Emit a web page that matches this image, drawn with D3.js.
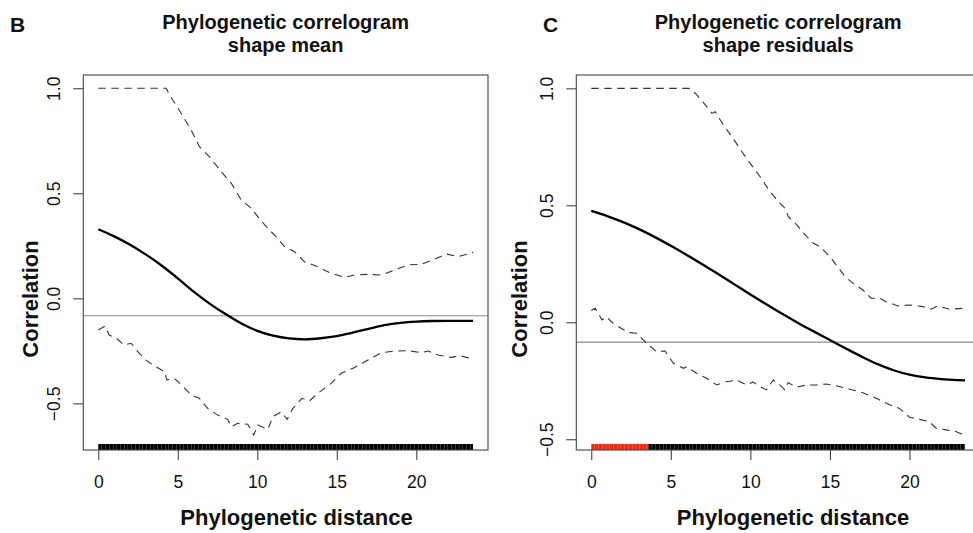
<!DOCTYPE html>
<html>
<head>
<meta charset="utf-8">
<script src="https://cdn.jsdelivr.net/npm/d3@7"></script>
<style>
  html, body { margin: 0; padding: 0; background: #fff; }
  svg { display: block; }
  text { font-family: "Liberation Sans", Arial, Helvetica, sans-serif; fill: #111; }
</style>
</head>
<body>
<svg id="chart" width="973" height="533"></svg>
<script>
// ---------------- data ----------------
const xTicks = [0, 5, 10, 15, 20];
const yTicksB = [-0.5, 0.0, 0.5, 1.0];
const yTicksC = [-0.5, 0.0, 0.5, 1.0];
const hLineB = -0.083;
const hLineC = -0.085;

// Panel B: shape mean
const bMeanDist = [0,1,2,3,4,5,6,7,8,9,10,11,12,13,14,15,16,17,18,19,20,21,22,23,23.57];
const bMeanCorr = [0.329,0.295,0.255,0.208,0.155,0.095,0.032,-0.025,-0.075,-0.120,-0.155,-0.178,-0.191,-0.195,-0.190,-0.180,-0.163,-0.145,-0.128,-0.117,-0.111,-0.108,-0.107,-0.107,-0.107];
const bUpperDist = [0,4.26,4.68,5.21,5.84,6.36,6.99,7.73,8.36,8.99,9.62,10.03,10.56,11.19,11.71,12.34,12.97,13.81,14.65,15.49,16.12,16.96,17.80,18.64,19.48,20.32,21.16,21.89,22.63,23.57];
const bUpperCorr = [1,1,0.944,0.881,0.801,0.722,0.674,0.603,0.548,0.468,0.429,0.389,0.341,0.293,0.246,0.222,0.174,0.150,0.119,0.100,0.111,0.114,0.111,0.135,0.159,0.162,0.186,0.211,0.198,0.219];
const bLowerDist = [0,0.42,0.69,1.22,1.6,2.06,2.48,3.0,3.53,4.16,4.32,4.79,5.31,5.84,6.36,6.88,7.51,8.14,8.36,8.77,9.40,9.78,10.03,10.66,10.98,11.5,11.88,12.24,12.81,13.29,13.81,14.65,15.28,16.12,16.96,17.80,18.64,19.48,20.32,20.74,21.37,22.21,22.74,23.57];
const bLowerCorr = [-0.151,-0.132,-0.175,-0.195,-0.222,-0.214,-0.254,-0.294,-0.322,-0.349,-0.389,-0.381,-0.418,-0.46,-0.476,-0.524,-0.556,-0.576,-0.611,-0.595,-0.599,-0.651,-0.603,-0.624,-0.564,-0.540,-0.576,-0.524,-0.476,-0.488,-0.452,-0.405,-0.357,-0.329,-0.294,-0.259,-0.251,-0.249,-0.259,-0.251,-0.270,-0.281,-0.273,-0.289];
const bBarStart = [0];
const bBarEnd = [23.57];
const bBarSig = ["ns"];

// Panel C: shape residuals
const cMeanDist = [0,1,2,3,4,5,6,7,8,9,10,11,12,13,14,15,16,17,18,19,20,21,22,23,23.49];
const cMeanCorr = [0.476,0.454,0.428,0.398,0.364,0.327,0.288,0.247,0.205,0.162,0.119,0.077,0.036,-0.003,-0.040,-0.076,-0.112,-0.147,-0.179,-0.205,-0.224,-0.236,-0.243,-0.247,-0.248];
const cUpperDist = [0,6.12,6.54,7.17,7.59,7.79,8.31,8.84,9.47,9.99,10.61,11.24,11.87,12.18,12.39,12.92,13.54,13.96,14.38,15.0,15.63,16.05,16.6,17.07,17.59,18.12,18.53,19.27,20.0,20.83,21.36,21.77,22.51,23.49];
const cUpperCorr = [1,1,0.979,0.929,0.893,0.90,0.843,0.793,0.729,0.679,0.622,0.558,0.508,0.487,0.451,0.416,0.366,0.338,0.323,0.280,0.224,0.188,0.160,0.138,0.103,0.103,0.088,0.070,0.074,0.067,0.056,0.070,0.056,0.060];
const cLowerDist = [0,0.25,0.67,0.94,1.3,1.71,2.34,2.86,3.49,4.11,4.64,5.16,5.79,6.0,6.62,7.25,7.88,8.5,9.13,9.76,10.17,10.6,11.01,11.43,11.85,12.16,12.37,12.89,13.52,14.14,14.77,15.4,16.24,17.07,17.91,18.75,19.37,20.0,20.63,21.25,21.67,22.3,22.92,23.49];
const cLowerCorr = [0.050,0.060,0.010,0.024,0.000,-0.019,-0.044,-0.047,-0.090,-0.126,-0.123,-0.175,-0.197,-0.19,-0.218,-0.239,-0.268,-0.254,-0.247,-0.268,-0.255,-0.275,-0.289,-0.247,-0.268,-0.289,-0.258,-0.278,-0.268,-0.268,-0.264,-0.271,-0.286,-0.301,-0.325,-0.353,-0.368,-0.406,-0.415,-0.425,-0.453,-0.460,-0.467,-0.485];
const cBarStart = [0, 3.59];
const cBarEnd = [3.59, 23.49];
const cBarSig = ["pos", "ns"];

const sigColor = { pos: "#f2290f", ns: "#000000", neg: "#1f3fff" };

// ---------------- drawing ----------------
const svg = d3.select("#chart");

function zip(xs, ys) { return xs.map((x, i) => [x, ys[i]]); }

function drawPanel(p) {
  const g = svg.append("g");
  const x = d3.scaleLinear().domain(p.xDomain).range([p.box.l, p.box.r]);
  const y = d3.scaleLinear().domain(p.yDomain).range([p.box.b, p.box.t]);

  // panel letter
  g.append("text").attr("x", p.letterX).attr("y", 31.5)
    .style("font-size", "21px").style("font-weight", "bold").text(p.letter);

  // titles
  const cx = (p.box.l + p.box.r) / 2;
  g.append("text").attr("x", cx).attr("y", 29).attr("text-anchor", "middle")
    .style("font-size", "20px").style("font-weight", "bold").text("Phylogenetic correlogram");
  g.append("text").attr("x", cx).attr("y", 52).attr("text-anchor", "middle")
    .style("font-size", "20px").style("font-weight", "bold").text(p.subtitle);

  // reference horizontal line
  g.append("line").attr("x1", p.box.l).attr("x2", p.box.r)
    .attr("y1", y(p.hLine)).attr("y2", y(p.hLine))
    .attr("stroke", "#8a8a8a").attr("stroke-width", 1.1);

  // significance bar
  const barY = p.box.b - 3;
  p.barStart.forEach((s, i) => {
    g.append("line").attr("x1", x(s)).attr("x2", x(p.barEnd[i]))
      .attr("y1", barY).attr("y2", barY)
      .attr("stroke", sigColor[p.barSig[i]]).attr("stroke-width", 6)
      .attr("stroke-dasharray", "3.5,0.22");
  });

  const line = d3.line().x(d => x(d[0])).y(d => y(d[1]));
  // confidence envelopes
  [zip(p.upperDist, p.upperCorr), zip(p.lowerDist, p.lowerCorr)].forEach(data => {
    g.append("path").datum(data).attr("d", line)
      .attr("fill", "none").attr("stroke", "#333").attr("stroke-width", 1.1)
      .attr("stroke-dasharray", "7.5,5.5");
  });
  // mean correlogram
  g.append("path").datum(zip(p.meanDist, p.meanCorr))
    .attr("d", d3.line().curve(d3.curveMonotoneX).x(d => x(d[0])).y(d => y(d[1])))
    .attr("fill", "none").attr("stroke", "#000").attr("stroke-width", 2.3);

  // box
  g.append("rect").attr("x", p.box.l).attr("y", p.box.t)
    .attr("width", p.box.r - p.box.l).attr("height", p.box.b - p.box.t)
    .attr("fill", "none").attr("stroke", "#444").attr("stroke-width", 1.1);

  // x axis
  const xa = g.append("g").attr("transform", `translate(0,${p.box.b})`)
    .call(d3.axisBottom(x).tickValues(xTicks).tickSize(10).tickPadding(4).tickFormat(d3.format("d")));
  xa.select(".domain").remove();
  xa.selectAll("line").attr("stroke", "#444").attr("stroke-width", 1.1);
  xa.selectAll("text").attr("y", 0).attr("dy", 0)
    .attr("transform", "translate(0,38)")
    .style("font-size", "17.5px").attr("fill", "#111");

  // y axis
  const ya = g.append("g").attr("transform", `translate(${p.box.l},0)`)
    .call(d3.axisLeft(y).tickValues(p.yTicks).tickSize(10).tickFormat(d3.format(".1f")));
  ya.select(".domain").remove();
  ya.selectAll("line").attr("stroke", "#444").attr("stroke-width", 1.1);
  ya.selectAll("text")
    .attr("x", 0).attr("dy", 0).attr("text-anchor", "middle")
    .attr("transform", "translate(-23,0) rotate(-90)")
    .style("font-size", "17.5px").attr("fill", "#111");

  // axis labels
  g.append("text").attr("x", p.xLabelX).attr("y", 525).attr("text-anchor", "middle")
    .style("font-size", "22px").style("font-weight", "bold").text("Phylogenetic distance");
  g.append("text").attr("text-anchor", "middle")
    .attr("transform", `translate(${p.yLabelX},299) rotate(-90)`)
    .style("font-size", "22px").style("font-weight", "bold").text("Correlation");
}

drawPanel({
  letter: "B", letterX: 10, subtitle: "shape mean",
  box: { l: 83.3, r: 488, t: 75, b: 450 },
  xDomain: [-0.943, 24.51], yDomain: [-0.722, 1.063],
  yTicks: yTicksB, hLine: hLineB,
  meanDist: bMeanDist, meanCorr: bMeanCorr,
  upperDist: bUpperDist, upperCorr: bUpperCorr,
  lowerDist: bLowerDist, lowerCorr: bLowerCorr,
  barStart: bBarStart, barEnd: bBarEnd, barSig: bBarSig,
  xLabelX: 296.5, yLabelX: 38
});

drawPanel({
  letter: "C", letterX: 543, subtitle: "shape residuals",
  box: { l: 576.3, r: 980, t: 75, b: 450 },
  xDomain: [-0.94, 24.43], yDomain: [-0.546, 1.057],
  yTicks: yTicksC, hLine: hLineC,
  meanDist: cMeanDist, meanCorr: cMeanCorr,
  upperDist: cUpperDist, upperCorr: cUpperCorr,
  lowerDist: cLowerDist, lowerCorr: cLowerCorr,
  barStart: cBarStart, barEnd: cBarEnd, barSig: cBarSig,
  xLabelX: 793, yLabelX: 527
});
</script>
</body>
</html>
